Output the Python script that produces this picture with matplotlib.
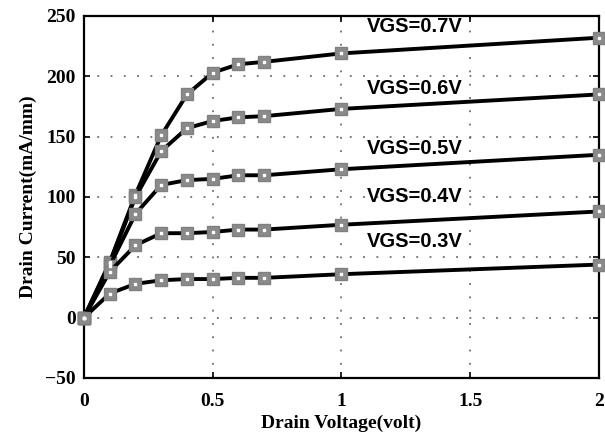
import numpy as np
import matplotlib.pyplot as plt

# drain voltage sweep (V)
vds = [0, 0.1, 0.2, 0.3, 0.4, 0.5, 0.6, 0.7, 1.0, 2.0]

# drain current (mA/mm) per gate voltage
id_07 = [0, 46, 102, 151, 185, 203, 210, 212, 219, 232]
id_06 = [0, 45, 100, 138, 157, 163, 166, 167, 173, 185]
id_05 = [0, 43, 86, 110, 114, 115, 118, 118, 123, 135]
id_04 = [0, 38, 60, 70, 70, 71, 73, 73, 77, 88]
id_03 = [0, 20, 28, 31, 32, 32, 33, 33, 36, 44]

curves = [id_07, id_06, id_05, id_04, id_03]
labels = ['VGS=0.7V', 'VGS=0.6V', 'VGS=0.5V', 'VGS=0.4V', 'VGS=0.3V']
label_y = [241, 190, 140, 100, 63]

xticks = [0, 0.5, 1, 1.5, 2]
xtick_labels = ['0', '0.5', '1', '1.5', '2']
yticks = [-50, 0, 50, 100, 150, 200, 250]

fig = plt.figure(figsize=(6.05, 4.32), dpi=100)
ax = fig.add_axes([0.1388, 0.125, 0.8512, 0.838])

for cur in curves:
    ax.plot(vds, cur, color='black', lw=2.8, zorder=3,
            marker='s', ms=8.5, mfc='#8a8a8a', mec='#808080', mew=1.0,
            clip_on=False)
    ax.plot(vds, cur, ls='none', marker='s', ms=1.8, mfc='white',
            mec='white', zorder=4, clip_on=False)

for lab, yy in zip(labels, label_y):
    ax.text(1.10, yy, lab, fontsize=14.5, fontweight='bold',
            family='Liberation Sans', va='center', ha='left', zorder=5)

ax.set_xlim(0, 2)
ax.set_ylim(-50, 250)
ax.set_xticks(xticks)
ax.set_xticklabels(xtick_labels)
ax.set_yticks(yticks)
ax.grid(True, color='#555555', ls=(0, (1.2, 7.5)), lw=1.1)

for sp in ax.spines.values():
    sp.set_linewidth(1.6)

ax.tick_params(direction='in', top=True, right=True, length=4, width=1.2)
ax.tick_params(axis='x', pad=11)
ax.tick_params(axis='y', pad=6)
for t in ax.get_xticklabels() + ax.get_yticklabels():
    t.set_family('Liberation Serif')
    t.set_fontweight('bold')
    t.set_fontsize(14)

ax.set_xlabel('Drain Voltage(volt)', family='Liberation Serif',
              fontweight='bold', fontsize=14, labelpad=3)
ax.set_ylabel('Drain Current(mA/mm)', family='Liberation Serif',
              fontweight='bold', fontsize=14, labelpad=6)

fig.savefig('out.png', dpi=100)
